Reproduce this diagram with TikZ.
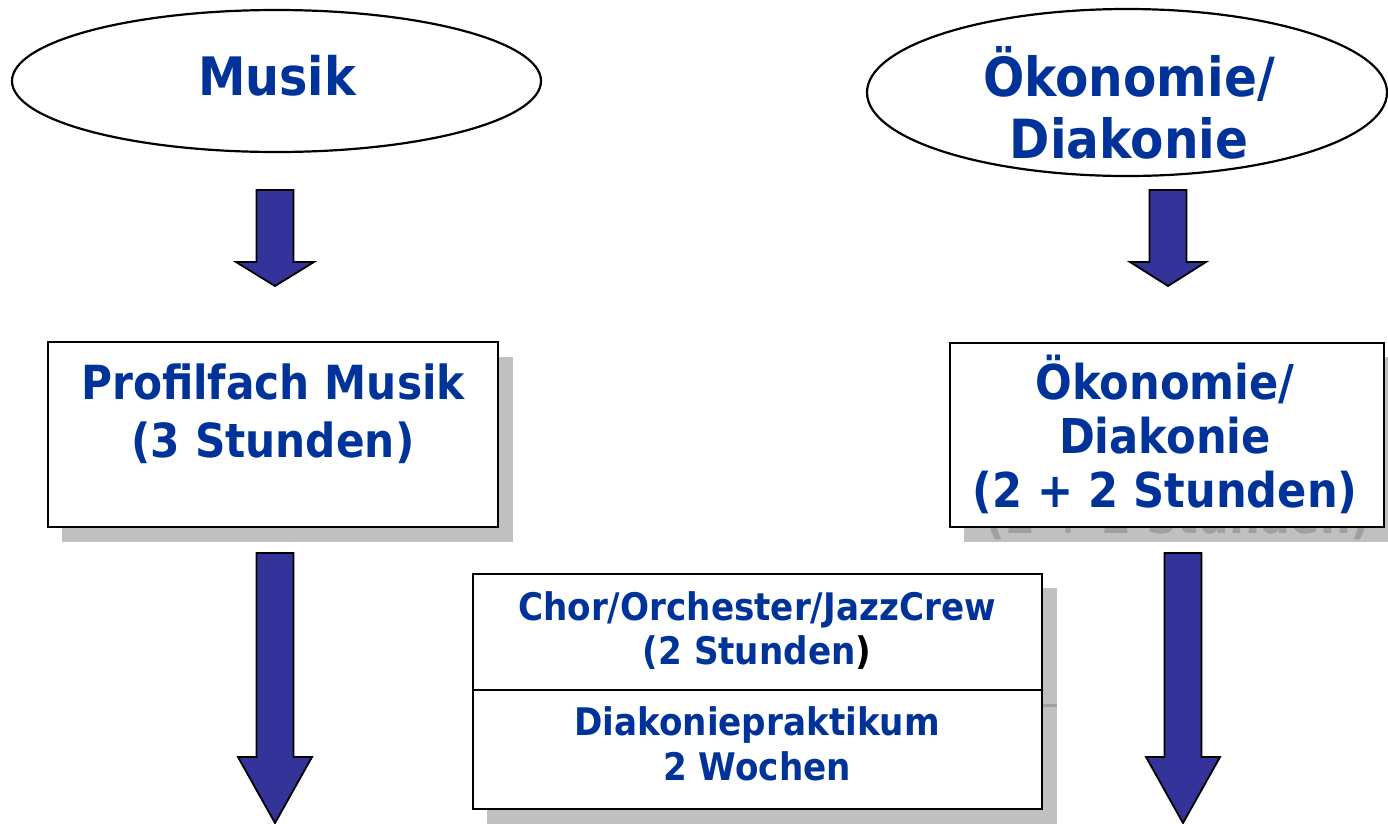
\documentclass[tikz,border=0pt]{standalone}
\usepackage{fontspec}
\usetikzlibrary{shapes.geometric}
\newfontfamily\tah[FakeStretch=0.9]{DejaVu Sans}
\definecolor{txtblue}{HTML}{003399}
\definecolor{arrowblue}{HTML}{333399}
\definecolor{shadowgray}{HTML}{C0C0C0}
\definecolor{ghostgray}{HTML}{A0A0A0}
\newcommand\blkarrow[6]{% cx, top, shoulder, tip, shaft half width, head half width
  \filldraw[blockarrow] ({#1-#5},#2) -- ({#1+#5},#2) -- ({#1+#5},#3) -- ({#1+#6},#3) -- (#1,#4) -- ({#1-#6},#3) -- ({#1-#5},#3) -- cycle;}
\begin{document}
\begin{tikzpicture}[x=1pt,y=-1pt,
  oval/.style={ellipse, draw=black, line width=2.2pt, fill=white, inner sep=0pt},
  box/.style={rectangle, draw=black, line width=2.2pt, fill=white, inner sep=0pt, anchor=north west},
  shade/.style={fill=shadowgray},
  blockarrow/.style={fill=arrowblue, draw=black, line width=1.8pt, line join=miter},
  txt/.style={text=txtblue, align=center, anchor=base, inner sep=0pt},
  huge/.style={txt, font=\tah\bfseries\fontsize{53}{62}\selectfont},
  large/.style={txt, font=\tah\bfseries\fontsize{48}{54}\selectfont},
  small/.style={txt, font=\tah\bfseries\fontsize{38}{44}\selectfont}
]
\useasboundingbox (0,0) rectangle (1388,823);
\fill[white] (0,0) rectangle (1388,823);

% top ellipses
\node[oval, minimum width=529pt, minimum height=142pt] (musik) at (276.5,81) {};
\node[huge] (musiktxt) at (277,95) {Musik};
\node[oval, minimum width=520pt, minimum height=167pt] (oeko) at (1127,92.5) {};
\node[huge, font=\tah\bfseries\fontsize{54}{62}\selectfont] (oekotxt) at (1129,158) {Ökonomie/\\Diakonie};

% upper arrows
\blkarrow{275}{190}{262}{286}{18.5}{39}
\blkarrow{1168}{190}{262}{286}{18.5}{38}

% Profilfach box
\fill[shade] (62,357) rectangle (513,542);
\node[box, minimum width=450pt, minimum height=185pt] (prof) at (47,341) {};
\node[large, font=\tah\bfseries\fontsize{47}{58}\selectfont] (proftxt) at (273,457) {Profilfach Musik\\(3 Stunden)};

% Oekonomie box
\fill[shade] (964,357) rectangle (1398,542);
\begin{scope}
  \clip (964,357) rectangle (1398,542);
  \node[large, text=ghostgray] (oekoghost) at (1178,533) {Ökonomie/\\Diakonie\\(2 + 2 Stunden)};
\end{scope}
\node[box, minimum width=434pt, minimum height=184pt] (oekobox) at (949,342) {};
\node[large] (oekoboxtxt) at (1165,507) {Ökonomie/\\Diakonie\\(2 + 2 Stunden)};

% lower arrows
\blkarrow{275}{553}{757}{823}{18.5}{37}
\blkarrow{1183}{553}{757}{823}{18.5}{37}

% Chor / Diakoniepraktikum box
\fill[shade] (487,588) rectangle (1057,830);
\draw[ghostgray, line width=3pt] (487,705) -- (1057,705);
\node[box, minimum width=569pt, minimum height=116pt] (chor) at (472,573) {};
\node[box, minimum width=569pt, minimum height=119pt] (praktikum) at (472,689) {};
\node[small] (chortxt) at (757,664) {Chor/Orchester/JazzCrew\\(2 Stunden{\color{black})}};
\node[small, font=\tah\bfseries\fontsize{38}{45}\selectfont] (praktxt) at (757,780) {Diakoniepraktikum\\2 Wochen};
\end{tikzpicture}
\end{document}
